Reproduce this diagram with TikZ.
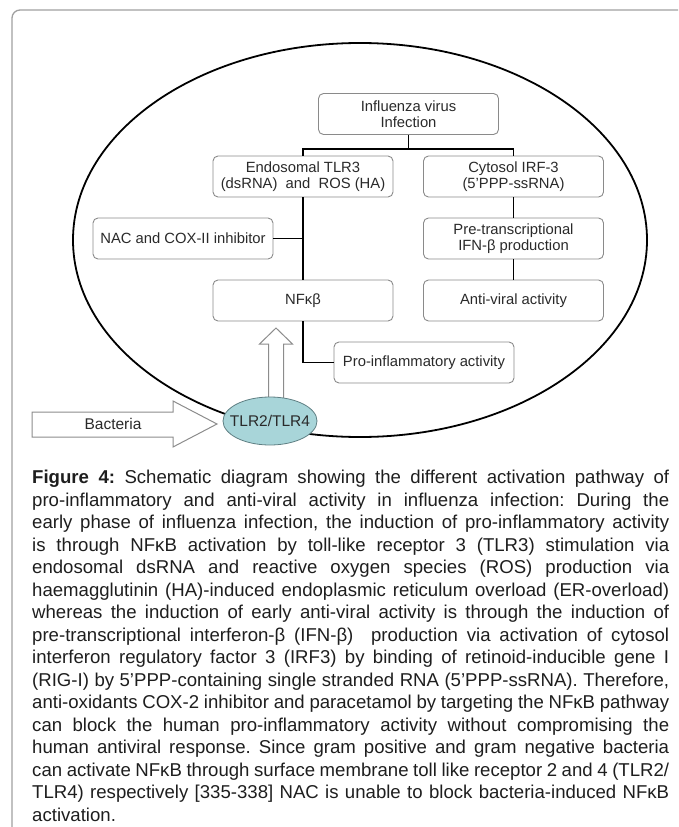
\documentclass[tikz,border=0pt]{standalone}
\usepackage{fontspec}
\setmainfont{Liberation Sans}
\usetikzlibrary{shapes.geometric}
\definecolor{boxline}{HTML}{8A8A8A}
\definecolor{boxtext}{HTML}{2A2A2A}
\definecolor{captext}{HTML}{1E1E1E}
\definecolor{framecol}{HTML}{A0A0A0}
\definecolor{tlrfill}{HTML}{A8D5D9}
\definecolor{tlrline}{HTML}{5F7F83}
\definecolor{arrowline}{HTML}{8C8C8C}
\tikzset{
  pbox/.style={draw=boxline, line width=0.9pt, rounded corners=5pt, fill=white,
    minimum width=180pt, minimum height=41pt, inner sep=0pt, align=center,
    font=\fontsize{14.8}{16.2}\selectfont, text=boxtext},
  link/.style={line width=1.8pt, draw=black},
  hollow/.style={draw=arrowline, fill=white, line width=1pt, line join=miter},
  biglabel/.style={font=\fontsize{15.5}{18}\selectfont, text=boxtext, inner sep=0pt},
}
\begin{document}
\frenchspacing
\begin{tikzpicture}[x=1pt, y=-1pt]
\useasboundingbox (0,0) rectangle (678,827);
% frame
\draw[framecol, line width=1.3pt, rounded corners=8pt] (678,10) -- (12,10) -- (12,827);
% cell ellipse
\draw[line width=1.8pt] (360,240) ellipse [x radius=287pt, y radius=197pt];
% boxes
\node[pbox] (inf)  at (408.5,114)  {Influenza virus\\Infection};
\node[pbox] (endo) at (303,176.5)  {Endosomal TLR3\\(dsRNA)\ \ and\ \ ROS (HA)};
\node[pbox] (cyto) at (513.5,176.5){Cytosol IRF-3\\(5’PPP-ssRNA)};
\node[pbox] (nac)  at (183,238.5)  {NAC and COX-II inhibitor};
\node[pbox] (pre)  at (513.5,238.5){Pre-transcriptional\\IFN-β production};
\node[pbox] (nfkb) at (303,300.5)  {NFκβ};
\node[pbox] (anti) at (513.5,300.5){Anti-viral activity};
\node[pbox] (pro)  at (424,362.5)  {Pro-inflammatory activity};
% connectors
\coordinate (br) at (408.5,149);
\draw[link] (inf.south) -- (br);
\draw[link] (endo.north) |- (br) -| (cyto.north);
\draw[link] (endo.south) -- (nfkb.north);
\draw[link] (nac.east) -- (nac.east -| endo.south);
\draw[link] (cyto.south) -- (pre.north);
\draw[link] (pre.south) -- (anti.north);
\draw[link] (nfkb.south) |- (pro.west);
% hollow arrows
\draw[hollow] (268.5,400) -- (268.5,344) -- (259.5,344) -- (276,328) -- (292.5,344) -- (283.5,344) -- (283.5,400) -- cycle;
\draw[hollow] (32,412) -- (173,412) -- (173,401) -- (217,424) -- (173,447) -- (173,437) -- (32,437) -- cycle;
\node[biglabel] (bact) at (113,424) {Bacteria};
% receptor
\node[ellipse, draw=tlrline, fill=tlrfill, line width=0.8pt, minimum width=94pt, minimum height=48pt, inner sep=0pt] (tlr) at (270,421) {};
\node[biglabel] (tlrtxt) at (tlr.center) {TLR2/TLR4};
% caption
\node[anchor=base west, inner sep=0pt, text=captext, font=\fontsize{18.6}{22.5}\selectfont] (cap) at (32,483.5) {\vtop{\hsize=637pt \baselineskip=22.5pt \lineskiplimit=-20pt \parindent=0pt
\frenchspacing
\spaceskip=0.278em plus 0.5em minus 0.14em
\hbox to\hsize{\textbf{Figure 4:} Schematic diagram showing the different activation pathway of}
\hbox to\hsize{pro-inflammatory and anti-viral activity in influenza infection: During the}
\hbox to\hsize{early phase of influenza infection, the induction of pro-inflammatory activity}
\hbox to\hsize{is through NFκB activation by toll-like receptor 3 (TLR3) stimulation via}
\hbox to\hsize{endosomal dsRNA and reactive oxygen species (ROS) production via}
\hbox to\hsize{haemagglutinin (HA)-induced endoplasmic reticulum overload (ER-overload)}
\hbox to\hsize{whereas the induction of early anti-viral activity is through the induction of}
\hbox to\hsize{pre-transcriptional interferon-β (IFN-β)\ \ production via activation of cytosol}
\hbox to\hsize{interferon regulatory factor 3 (IRF3) by binding of retinoid-inducible gene I}
\hbox to\hsize{(RIG-I) by 5’PPP-containing single stranded RNA (5’PPP-ssRNA). Therefore,}
\hbox to\hsize{anti-oxidants COX-2 inhibitor and paracetamol by targeting the NFκB pathway}
\hbox to\hsize{can block the human pro-inflammatory activity without compromising the}
\hbox to\hsize{human antiviral response. Since gram positive and gram negative bacteria}
\hbox to\hsize{can activate NFκB through surface membrane toll like receptor 2 and 4 (TLR2/}
\hbox to\hsize{TLR4) respectively [335-338] NAC is unable to block bacteria-induced NFκB}
\hbox{activation.}}};
\end{tikzpicture}
\end{document}
